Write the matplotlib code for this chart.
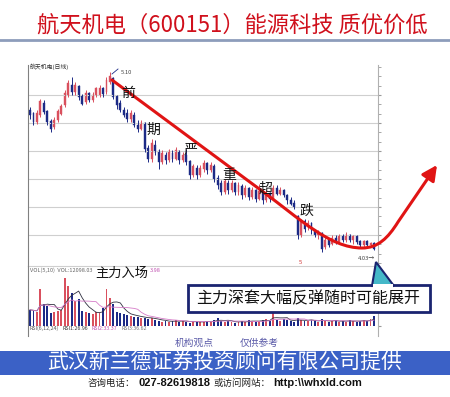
import matplotlib
matplotlib.use('Agg')
import matplotlib.pyplot as plt
import numpy as np
import pandas as pd
from matplotlib.patches import Rectangle, Polygon, FancyArrowPatch
from matplotlib.path import Path
from matplotlib.lines import Line2D
from matplotlib.transforms import Affine2D
from matplotlib.ticker import AutoMinorLocator

plt.rcParams['font.family'] = ['Noto Sans CJK SC', 'DejaVu Sans']

# ---------------- data ----------------
opens = [4.87, 4.85, 4.80, 4.84, 4.91, 4.86, 4.80, 4.77, 4.81, 4.85,
         4.90, 4.96, 5.02, 4.98, 5.01, 4.95, 4.92, 4.97, 4.93, 4.96,
         4.96, 5.00, 4.98, 5.04, 5.06, 4.95, 4.91, 4.87, 4.85, 4.82,
         4.84, 4.78, 4.76, 4.79, 4.64, 4.58, 4.66, 4.62, 4.56, 4.60,
         4.57, 4.61, 4.58, 4.62, 4.57, 4.60, 4.56, 4.48, 4.52, 4.48,
         4.52, 4.55, 4.51, 4.53, 4.46, 4.43, 4.38, 4.43, 4.39, 4.43,
         4.38, 4.41, 4.36, 4.40, 4.35, 4.39, 4.34, 4.38, 4.33, 4.37,
         4.34, 4.40, 4.37, 4.39, 4.36, 4.33, 4.31, 4.23, 4.12, 4.20,
         4.17, 4.19, 4.15, 4.12, 4.13, 4.05, 4.09, 4.07, 4.10, 4.08,
         4.11, 4.09, 4.12, 4.09, 4.11, 4.08, 4.06, 4.08, 4.06, 4.07]
closes = [4.84, 4.80, 4.85, 4.92, 4.86, 4.80, 4.76, 4.81, 4.86, 4.89,
          4.97, 5.03, 4.98, 5.02, 4.95, 4.91, 4.97, 4.93, 4.96, 5.00,
          5.00, 4.97, 5.05, 5.07, 4.95, 4.90, 4.87, 4.84, 4.82, 4.85,
          4.78, 4.76, 4.79, 4.64, 4.58, 4.67, 4.62, 4.56, 4.61, 4.57,
          4.62, 4.58, 4.63, 4.57, 4.60, 4.56, 4.48, 4.53, 4.48, 4.52,
          4.55, 4.51, 4.54, 4.46, 4.42, 4.38, 4.44, 4.39, 4.43, 4.38,
          4.42, 4.36, 4.40, 4.35, 4.39, 4.34, 4.38, 4.33, 4.37, 4.34,
          4.40, 4.37, 4.39, 4.36, 4.33, 4.31, 4.29, 4.12, 4.20, 4.16,
          4.19, 4.15, 4.12, 4.14, 4.04, 4.09, 4.06, 4.10, 4.08, 4.11,
          4.09, 4.12, 4.09, 4.11, 4.08, 4.06, 4.08, 4.06, 4.07, 4.04]
highs = [4.89, 4.86, 4.87, 4.94, 4.93, 4.87, 4.82, 4.83, 4.88, 4.91,
         4.99, 5.05, 5.07, 5.04, 5.02, 4.97, 4.99, 4.98, 4.98, 5.01,
         5.02, 5.01, 5.07, 5.10, 5.07, 4.96, 4.93, 4.89, 4.88, 4.87,
         4.86, 4.81, 4.81, 4.80, 4.66, 4.70, 4.69, 4.64, 4.63, 4.62,
         4.64, 4.63, 4.65, 4.63, 4.62, 4.64, 4.57, 4.55, 4.54, 4.54,
         4.57, 4.56, 4.56, 4.55, 4.48, 4.45, 4.46, 4.45, 4.45, 4.44,
         4.44, 4.43, 4.42, 4.41, 4.41, 4.40, 4.43, 4.39, 4.39, 4.38,
         4.42, 4.42, 4.41, 4.40, 4.37, 4.35, 4.33, 4.24, 4.22, 4.22,
         4.21, 4.20, 4.16, 4.15, 4.14, 4.11, 4.10, 4.12, 4.12, 4.13,
         4.13, 4.14, 4.13, 4.12, 4.12, 4.09, 4.09, 4.09, 4.08, 4.08]
lows = [4.82, 4.78, 4.79, 4.83, 4.85, 4.78, 4.74, 4.76, 4.80, 4.84,
        4.89, 4.95, 4.96, 4.96, 4.93, 4.90, 4.91, 4.92, 4.92, 4.95,
        4.95, 4.95, 4.97, 5.03, 4.94, 4.88, 4.86, 4.83, 4.80, 4.80,
        4.77, 4.74, 4.75, 4.62, 4.56, 4.56, 4.60, 4.52, 4.55, 4.55,
        4.56, 4.56, 4.57, 4.55, 4.56, 4.54, 4.46, 4.47, 4.46, 4.47,
        4.50, 4.49, 4.50, 4.44, 4.40, 4.36, 4.37, 4.37, 4.38, 4.36,
        4.36, 4.34, 4.35, 4.33, 4.34, 4.32, 4.33, 4.31, 4.32, 4.32,
        4.33, 4.36, 4.36, 4.35, 4.31, 4.30, 4.28, 4.10, 4.11, 4.14,
        4.15, 4.13, 4.11, 4.10, 4.02, 4.04, 4.05, 4.06, 4.07, 4.07,
        4.08, 4.08, 4.08, 4.07, 4.07, 4.05, 4.05, 4.05, 4.05, 4.03]
volumes = [19360, 18150, 16940, 44770, 26620, 24200, 15730, 16940, 18150, 19360,
           58080, 48400, 39930, 30250, 32670, 18150, 16940, 15730, 14520, 16940,
           15730, 21780, 44770, 33880, 26620, 16940, 15730, 14520, 13310, 12098,
           10890, 10890, 9680, 9680, 8470, 9680, 7260, 6050, 4840, 6050,
           4840, 6050, 7260, 4840, 6050, 4840, 3630, 6050, 4840, 4840,
           4840, 6050, 4840, 7260, 9680, 6050, 4840, 6050, 4840, 3630,
           4840, 6050, 4840, 7260, 6050, 4840, 6050, 7260, 8470, 6050,
           20570, 7260, 6050, 8470, 7260, 6050, 4840, 9680, 7260, 6050,
           6050, 7260, 6050, 4840, 8470, 6050, 4840, 6050, 7260, 4840,
           6050, 4840, 7260, 6050, 4840, 6050, 7260, 6050, 8470, 12098]

title = "航天机电（600151）能源科技 质优价低"
trend_words = ["前", "期", "严", "重", "超", "跌"]
callout = "主力深套大幅反弹随时可能展开"
entry_label = "主力入场"
banner = "武汉新兰德证券投资顾问有限公司提供"
high_label, low_label = "5.10", "4.03"
rsi_labels = ["RSI(6,12,24)", "RSI1:26.96", "RSI2:33.37", "RSI3:36.62"]

# ---------------- figure ----------------
W, H = 450, 397
fig = plt.figure(figsize=(4.5, 3.97), dpi=100)
fig.patch.set_facecolor('white')
px = Affine2D().scale(1 / W, -1 / H).translate(0, 1) + fig.transFigure
renderer = fig.canvas.get_renderer()


def text_run(x, y, parts, gap=2):
    """Place text pieces one after another (pixel coords, from top-left)."""
    for s, kw in parts:
        t = fig.text(x, y, s, transform=px, ha='left', va='center', **kw)
        x += t.get_window_extent(renderer).width + gap
    return x


ax = fig.add_axes([28 / W, 1 - 266 / H, 350 / W, 201 / H])
axv = fig.add_axes([28 / W, 1 - 336 / H, 350 / W, 70 / H])

idx = np.arange(len(closes))
o = np.array(opens); c = np.array(closes)
hi = np.array(highs); lo = np.array(lows)
up = c >= o
red, blue = '#d9505e', '#1c2a86'
cols = np.where(up, red, blue)

# candles
ax.vlines(idx, lo, hi, colors=cols, lw=0.7)
ax.bar(idx, np.abs(c - o) + 0.004, bottom=np.minimum(o, c), width=0.55,
       color=cols, edgecolor=cols, lw=0.3)
ax.set_xlim(-0.58, 100.15)
ax.set_ylim(3.936, 5.142)
grid_levels = np.arange(4.122, 5.0, 0.168)
ax.set_yticks(grid_levels)
ax.yaxis.set_minor_locator(AutoMinorLocator(3))
ax.grid(axis='y', color='#cfcfcf', lw=0.8)
ax.set_xticks([])
ax.yaxis.tick_right()
ax.tick_params(axis='y', which='both', length=2, labelright=False, color='#999999')
ax.spines['top'].set_visible(False)
ax.spines['left'].set_color('#808080')
ax.spines['right'].set_color('#b0b0b0')
ax.spines['bottom'].set_color('#cfcfcf')

# volume
axv.bar(idx, volumes, width=0.55, color=cols)
vs = pd.Series(volumes)
axv.plot(idx, vs.rolling(5, min_periods=1).mean(), color='#303040', lw=0.6)
axv.plot(idx, vs.rolling(10, min_periods=1).mean(), color='#d67cc8', lw=0.6)
axv.set_xlim(-0.58, 100.15)
axv.set_ylim(-12100, 72000)
axv.set_xticks([])
axv.set_yticks([0, 24000, 48000])
axv.yaxis.tick_right()
axv.tick_params(axis='y', length=2, labelright=False, color='#999999')
axv.spines['top'].set_visible(False)
axv.spines['bottom'].set_visible(False)
axv.spines['left'].set_color('#808080')
axv.spines['right'].set_color('#b0b0b0')
axv.patch.set_alpha(0)

# small chart texts
fig.text(30, 67, "航天机电(日线)", transform=px, fontsize=4.2, color='#333333', va='center')
fig.text(121, 72, high_label, transform=px, fontsize=4.2, color='#444444', va='center')
fig.add_artist(Line2D([112, 118], [74, 69], transform=px, color='#1c2a86', lw=0.6))
fig.text(358, 258, low_label + "→", transform=px, fontsize=4.2, color='#444444', va='center')
fig.text(300, 263, "5", transform=px, fontsize=4.2, color='#d03030', va='center', ha='center')
fig.text(30, 270, "VOL(5,10)  VOL:12098.03", transform=px, fontsize=4.0, color='#666666', va='center')
fig.text(150, 270, "3.98", transform=px, fontsize=4.0, color='#c050b0', va='center')
rsi_colors = ['#555555', '#333333', '#c050b0', '#777777']
text_run(29, 328, [(s, dict(fontsize=3.8, color=col)) for s, col in zip(rsi_labels, rsi_colors)], gap=4)

# title
fig.text(232, 25, title, transform=px, ha='center', va='center', fontsize=16, color='#d0101c')
fig.add_artist(Line2D([0, W], [40, 40], transform=px, color='#8d9dbb', lw=2))

# red trend curve with arrow
verts = [(112, 80), (262, 191), (300, 219), (330, 248), (362, 248),
         (378, 248), (388, 238), (398, 222), (437, 165)]
codes = [Path.MOVETO, Path.LINETO, Path.CURVE4, Path.CURVE4, Path.CURVE4,
         Path.CURVE4, Path.CURVE4, Path.CURVE4, Path.LINETO]
arrow = FancyArrowPatch(path=Path(verts, codes), transform=px,
                        arrowstyle='-|>,head_length=9,head_width=4.5',
                        mutation_scale=1, color='#e01414', lw=2.2)
fig.add_artist(arrow)

word_pos = [(128, 93), (153, 130), (191, 150), (229, 175), (266, 189), (306, 211)]
for w, (x, y) in zip(trend_words, word_pos):
    fig.text(x, y, w, transform=px, ha='center', va='center', fontsize=10, color='#111111')

fig.text(122, 273, entry_label, transform=px, ha='center', va='center', fontsize=9.5,
         color='#111111')

# callout box
fig.add_artist(Rectangle((188, 285), 242, 27, transform=px, facecolor='white',
                         edgecolor='#1a2470', lw=2))
fig.add_artist(Polygon([(376, 262), (372, 286), (394, 286)], closed=True, transform=px,
                       facecolor='#45b8c8', edgecolor='#1a2470', lw=1.5))
fig.add_artist(Rectangle((373, 284), 20, 4, transform=px, facecolor='white', edgecolor='none'))
fig.text(308, 298.5, callout, transform=px, ha='center', va='center', fontsize=11.5, color='#111111')

# footer
fig.text(194, 343, "机构观点", transform=px, ha='center', va='center', fontsize=7, color='#5a5aa8')
fig.text(259, 343, "仅供参考", transform=px, ha='center', va='center', fontsize=7, color='#5a5aa8')
fig.add_artist(Rectangle((0, 351), W, 24, transform=px, facecolor='#3b61c6', edgecolor='none'))
fig.text(225, 362.5, banner, transform=px, ha='center', va='center', fontsize=15, color='white')

cjk = dict(fontsize=6.8, color='#222222')
bold = dict(fontsize=8, color='#111111', weight='bold', family=['Liberation Sans', 'DejaVu Sans'])
text_run(88, 383, [("咨询电话：", cjk), ("027-82619818", bold),
                   ("或访问网站：", cjk), ("http:\\\\whxld.com", bold)], gap=3)

fig.savefig('out.png', dpi=100)
